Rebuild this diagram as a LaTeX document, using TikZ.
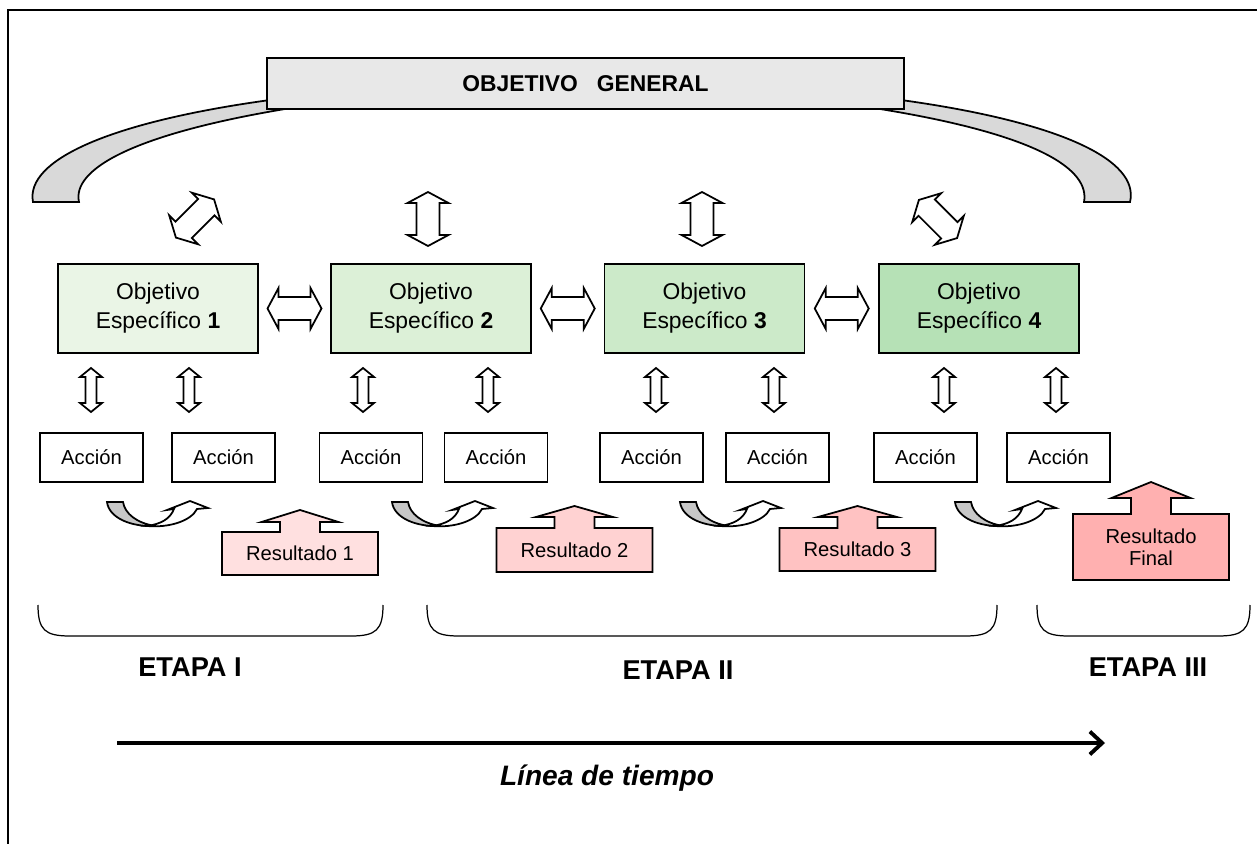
\documentclass[tikz,border=0pt]{standalone}
\usepackage{fontspec}
\setmainfont{Liberation Sans}
\usetikzlibrary{calc}
\usetikzlibrary{arrows.meta}
\definecolor{obj1}{RGB}{234,245,230}
\definecolor{obj2}{RGB}{220,240,215}
\definecolor{obj3}{RGB}{204,234,201}
\definecolor{obj4}{RGB}{182,225,182}
\definecolor{res1}{RGB}{255,224,224}
\definecolor{res2}{RGB}{255,210,210}
\definecolor{res3}{RGB}{255,194,194}
\definecolor{res4}{RGB}{255,176,176}
\tikzstyle{genbox}=[rectangle,draw,line width=1pt,fill=black!9,minimum width=12.74cm,minimum height=1.02cm,font=\bfseries\fontsize{13}{15}\selectfont]
\tikzstyle{objbox}=[rectangle,draw,line width=1pt,minimum width=4cm,minimum height=1.78cm,align=center,font=\fontsize{13}{16.5}\selectfont]
\tikzstyle{accbox}=[rectangle,draw,line width=1pt,fill=white,minimum width=2.06cm,minimum height=0.98cm,font=\fontsize{11.5}{13}\selectfont]
\tikzstyle{resnode}=[align=center,inner sep=0pt,font=\fontsize{11.5}{12.5}\selectfont]
\tikzstyle{outline}=[draw,line width=1pt,line join=miter]
\tikzstyle{band}=[draw,line width=1pt,fill=black!15]
\tikzstyle{brace}=[draw,line width=0.7pt]
\tikzstyle{etapa}=[font=\bfseries\fontsize{15.5}{18}\selectfont]
\tikzset{
  bigdbl/.pic={\draw[outline,fill=white] (-27,0) -- (-16,-20.5) -- (-16,-11.5) -- (16,-11.5) -- (16,-20.5) -- (27,0) -- (16,20.5) -- (16,11.5) -- (-16,11.5) -- (-16,20.5) -- cycle;},
  smalldbl/.pic={\draw[outline,fill=white] (-22,0) -- (-13,-11) -- (-13,-5.5) -- (13,-5.5) -- (13,-11) -- (22,0) -- (13,11) -- (13,5.5) -- (-13,5.5) -- (-13,11) -- cycle;},
  uturn/.pic={
    \draw[outline,fill=black!22] (0,0) -- (16,0) .. controls (18,12) and (30,21) .. (48,24) .. controls (24,25) and (2,16) .. (0,0) -- cycle;
    \draw[outline,fill=white] (40,24) .. controls (62,26) and (84,19) .. (90,7) -- (101,6) -- (83,-1) -- (60,8) -- (67,7) .. controls (63,17) and (54,22) .. (40,24) -- cycle;}
}
\begin{document}
\begin{tikzpicture}[x=0.02cm, y=-0.02cm]

  \useasboundingbox (0,0) rectangle (1257,844);
  \draw[line width=1.1pt] (8,844) -- (8,10) -- (1257,10);

  % bandas curvas del objetivo general
  \draw[band] (270,100) .. controls (110,122) and (25,160) .. (33,202) -- (79,202) .. controls (72,170) and (130,135) .. (285,109) -- cycle;
  \draw[band] (901,100) .. controls (1060,122) and (1140,160) .. (1130,202) -- (1084,202) .. controls (1090,170) and (1040,135) .. (880,109) -- cycle;

  \node[genbox] (gen) at (585.5,83.5) {OBJETIVO\ \ \ GENERAL};

    \foreach \pos/\name/\col/\num in {{(158,308.5)/o1/obj1/1}, {(431,308.5)/o2/obj2/2}, {(704.5,308.5)/o3/obj3/3}, {(979,308.5)/o4/obj4/4}}
        \node[objbox,fill=\col] (\name) at \pos {Objetivo\\Específico \textbf{\num}};

    \foreach \pos/\name in {{(91.5,457.5)/a1}, {(223.5,457.5)/a2}, {(371,457.5)/a3}, {(496,457.5)/a4}, {(651.5,457.5)/a5}, {(777.5,457.5)/a6}, {(925.5,457.5)/a7}, {(1058.5,457.5)/a8}}
        \node[accbox] (\name) at \pos {Acción};

  % flechas dobles
  \pic[rotate=45] at (195,218.5) {bigdbl};
  \pic[rotate=90] at (428,219) {bigdbl};
  \pic[rotate=90] at (702,219) {bigdbl};
  \pic[rotate=-45] at (938,219) {bigdbl};
  \pic at ($(o1.east)!0.5!(o2.west)$) {bigdbl};
  \pic at ($(o2.east)!0.5!(o3.west)$) {bigdbl};
  \pic at ($(o3.east)!0.5!(o4.west)$) {bigdbl};

    \foreach \x in {91,189,363,488,656,774,944,1056}
        \pic[rotate=90] at (\x,390) {smalldbl};

    \foreach \x in {107,392,680,955}
        \pic at (\x,502) {uturn};

  % resultados
    \foreach \name/\x/\y/\hh/\sh/\hd/\hw/\col/\txt in {r1/300/553.5/21.5/10/12/38.5/res1/{Resultado 1}, r2/574.5/550/22/11/11/38.5/res2/{Resultado 2}, r3/857.5/549.5/21.5/11/11/39.5/res3/{Resultado 3}, r4/1151/547/33/16/16/39.5/res4/{Resultado\\Final}}
    {
        \draw[outline,fill=\col] (\x-78,\y+\hh) -- (\x-78,\y-\hh) -- (\x-20,\y-\hh) -- (\x-20,\y-\hh-\sh) -- (\x-\hw,\y-\hh-\sh) -- (\x,\y-\hh-\sh-\hd) -- (\x+\hw,\y-\hh-\sh) -- (\x+20,\y-\hh-\sh) -- (\x+20,\y-\hh) -- (\x+78,\y-\hh) -- (\x+78,\y+\hh) -- cycle;
        \node[resnode] (\name) at (\x,\y) {\txt};
    }

  % etapas
  \draw[brace] (38,605) .. controls (38,630) and (45,636) .. (70,636) -- (351,636) .. controls (376,636) and (383,630) .. (383,605);
  \draw[brace] (427,605) .. controls (427,630) and (434,636) .. (459,636) -- (965,636) .. controls (990,636) and (997,630) .. (997,605);
  \draw[brace] (1037,605) .. controls (1037,630) and (1044,636) .. (1069,636) -- (1218,636) .. controls (1243,636) and (1250,630) .. (1250,605);

  \node[etapa] (e1) at (190,667) {ETAPA I};
  \node[etapa] (e2) at (678,670) {ETAPA II};
  \node[etapa] (e3) at (1148,667) {ETAPA III};

  \coordinate (t0) at (117,743);
  \coordinate (t1) at (1105,743);
  \draw[line width=2.2pt, -{Straight Barb[length=7pt,width=13pt]}] (t0) -- (t1);
  \node[font=\bfseries\itshape\fontsize{16}{18}\selectfont] (tiempo) at (607,778) {Línea de tiempo};

\end{tikzpicture}
\end{document}
